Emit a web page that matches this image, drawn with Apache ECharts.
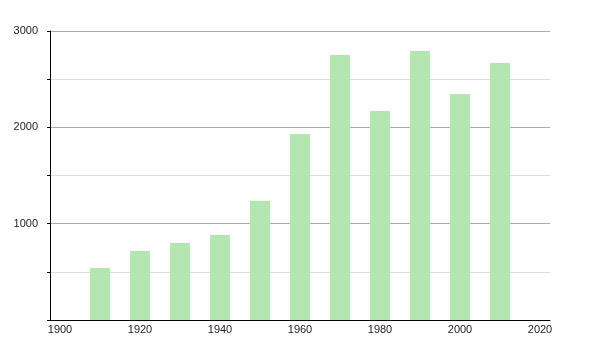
<!DOCTYPE html>
<html>
<head>
<meta charset="utf-8">
<script src="https://cdn.jsdelivr.net/npm/echarts@6/dist/echarts.min.js"></script>
<style>html,body{margin:0;padding:0;background:#fff}#c{width:600px;height:350px}</style>
</head>
<body>
<div id="c"></div>
<script>
var years = [1910, 1920, 1930, 1940, 1950, 1960, 1970, 1980, 1990, 2000, 2010];
var population = [540, 716, 799, 882, 1237, 1931, 2751, 2170, 2792, 2346, 2668];
var xTickLabels = [1900, 1920, 1940, 1960, 1980, 2000, 2020];

var chart = echarts.init(document.getElementById('c'));
chart.setOption({
  animation: false,
  grid: { left: 50, right: 50, top: 31, bottom: 30 },
  xAxis: {
    type: 'value', min: 1897.5, max: 2022.5,
    axisLine: { lineStyle: { color: '#000', width: 1 } },
    axisTick: { show: false },
    splitLine: { show: false },
    axisLabel: {
      customValues: xTickLabels,
      formatter: function (v) { return String(v); },
      color: '#222', fontSize: 11, fontFamily: 'Liberation Sans, Arial, sans-serif',
      margin: 4
    }
  },
  yAxis: {
    type: 'value', min: 0, max: 3000, interval: 500,
    axisLine: { show: true, lineStyle: { color: '#000', width: 1 } },
    axisTick: { show: true, length: 3, lineStyle: { color: '#000' } },
    splitLine: { show: true, lineStyle: { color: ['#aaaaaa', '#dddddd'], width: 1 } },
    axisLabel: {
      color: '#222', fontSize: 11, fontFamily: 'Liberation Sans, Arial, sans-serif', margin: 12,
      formatter: function (v) { return (v > 0 && v % 1000 === 0) ? String(v) : ''; }
    }
  },
  series: [{
    type: 'bar',
    barWidth: 20,
    itemStyle: { color: '#b3e6b0' },
    data: years.map(function (y, i) { return [y, population[i]]; })
  }]
});
</script>
</body>
</html>
